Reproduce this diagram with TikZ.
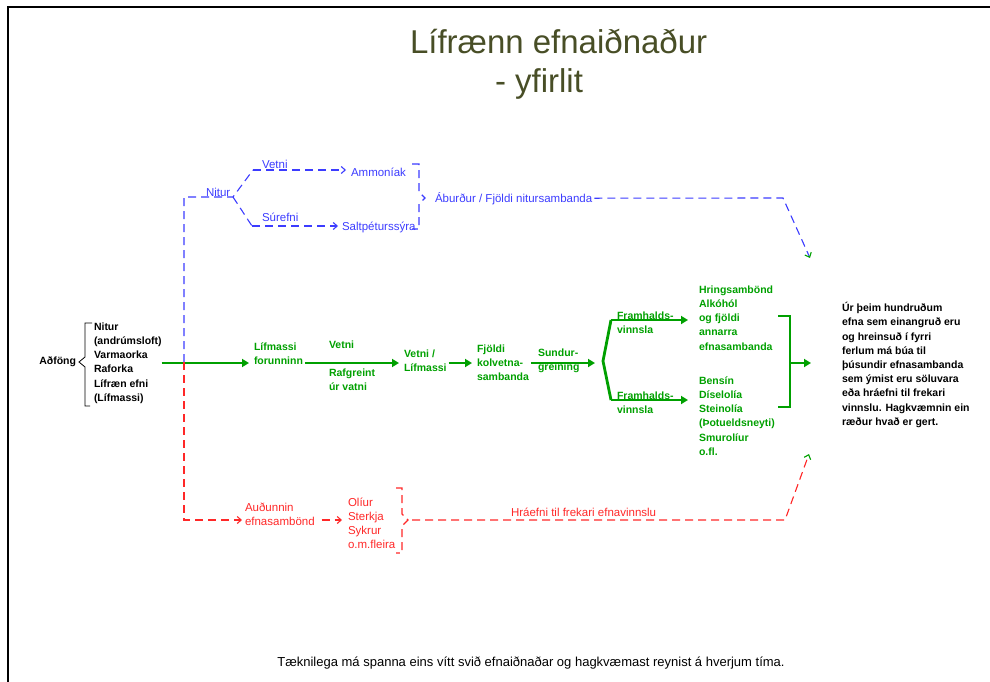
\documentclass[tikz,border=0pt]{standalone}
\usepackage{fontspec}
\setmainfont{Liberation Sans}
\usetikzlibrary{arrows.meta}
\usetikzlibrary{calc}
\definecolor{blu}{RGB}{60,60,255}
\definecolor{rd}{RGB}{255,40,40}
\definecolor{grn}{RGB}{0,160,0}
\definecolor{olive}{RGB}{72,78,38}
\newcommand{\lbl}{\fontsize{11.5}{14}\selectfont}
\newcommand{\glbl}{\fontsize{10.5}{14.2}\selectfont\bfseries}

\begin{document}
\begin{tikzpicture}[x=1pt,y=-1pt,
  txt/.style={inner sep=0pt, outer sep=0pt, align=left},
  bl/.style={txt, text=blu, font=\lbl},
  rt/.style={txt, text=rd, font=\lbl},
  gt/.style={txt, text=grn, font=\glbl},
  kt/.style={txt, text=black, font=\glbl},
  bdash/.style={draw=blu, line width=1.1pt, dash pattern=on 8pt off 5pt},
  rdash/.style={draw=rd, line width=1.1pt, dash pattern=on 8pt off 5pt},
  thintip/.style={-{Straight Barb[length=4pt,width=7pt]}},
  greentip/.style={-{Straight Barb[length=4pt,width=7pt,color=grn]}},
  gline/.style={draw=grn, line width=2.8pt},
  garrow/.style={gline, -{Triangle[length=7pt,width=8pt]}, shorten <=2pt, shorten >=5pt},
]
\useasboundingbox (0,0) rectangle (990,682);
\draw[line width=2pt] (8,682) -- (8,7) -- (990,7);

\node[txt, text=olive, font=\fontsize{33}{39}\selectfont, anchor=base west] (title) at (410,93)
  {Lífrænn efnaiðnaður\\\hspace*{85pt}- yfirlit};

\node[kt, anchor=east] (adfong) at (76,362) {Aðföng};
\node[kt, anchor=west] (inputs) at (94,363) {Nitur\\(andrúmsloft)\\Varmaorka\\Raforka\\Lífræn efni\\(Lífmassi)};
\draw[line width=.8pt] (92,323) -- (85,323) -- (85,357) -- (79,362) -- (85,367) -- (85,406) -- (90,406);

\coordinate (junc) at (184,362);
\coordinate (nsplit) at (233,197);
\coordinate (nup) at (253,170);
\coordinate (ndn) at (252,226);
\node[bl, anchor=base west] (nitur) at (206,196) {Nitur};
\node[bl, anchor=base west] (vetni) at (262,168) {Vetni};
\node[bl, anchor=base west] (surefni) at (262,221) {Súrefni};
\node[bl, anchor=base west] (ammon) at (351,176) {Ammoníak};
\node[bl, anchor=base west] (salt) at (342,230) {Saltpéturssýra};
\node[bl, anchor=base west] (abur) at (435,202) {Áburður / Fjöldi nitursambanda};
\draw[bdash] (junc) |- (nsplit) -- (nup);
\draw[bdash] (nsplit) -- (ndn);
\draw[bdash, thintip, shorten >=5pt] (nup) -- (ammon.west |- nup);
\draw[bdash, thintip, shorten >=4pt] (ndn) -- (salt.west |- ndn);
\draw[bdash] (412,164) -| (419,192) -- (425,198) -- (419,204) |- (412,229);
\coordinate (nbend) at (783,198);
\coordinate (nend) at (810,258);
\draw[bdash, greentip, shorten <=2pt] (abur.east) -- (nbend) -- (nend);

\node[gt, anchor=west] (lifm) at (254,354) {Lífmassi\\forunninn};
\node[gt, anchor=base west] (vetni2) at (329,348) {Vetni};
\node[gt, anchor=west] (rafg) at (329,380) {Rafgreint\\úr vatni};
\node[gt, anchor=west] (vl) at (404,361) {Vetni /\\Lífmassi};
\node[gt, anchor=west] (fjoldi) at (477,363) {Fjöldi\\kolvetna-\\sambanda};
\node[gt, anchor=west] (sund) at (538,361) {Sundur-\\greining};
\coordinate (fork) at (603,361);
\coordinate (fup) at (611,320);
\coordinate (fdn) at (611,400);
\node[gt, anchor=west] (fr1) at (617,323) {Framhalds-\\vinnsla};
\node[gt, anchor=west] (fr2) at (617,403) {Framhalds-\\vinnsla};
\node[gt, anchor=west] (hring) at (699,318) {Hringsambönd\\Alkóhól\\og fjöldi\\annarra\\efnasambanda};
\node[gt, anchor=west] (bens) at (699,416) {Bensín\\Díselolía\\Steinolía\\(Þotueldsneyti)\\Smurolíur\\o.fl.};
\node[kt, anchor=west] (result) at (842,365) {Úr þeim hundruðum\\efna sem einangruð eru\\og hreinsuð í fyrri\\ferlum má búa til\\þúsundir efnasambanda\\sem ýmist eru söluvara\\eða hráefni til frekari\\vinnslu. Hagkvæmnin ein\\ræður hvað er gert.};

\draw[garrow, shorten <=0pt] (inputs.east) -- (lifm.west |- inputs.east);
\draw[garrow] (lifm.east |- inputs.east) -- (vl.west |- inputs.east);
\draw[garrow] (vl.east |- inputs.east) -- (fjoldi.west |- inputs.east);
\draw[garrow, shorten >=8pt] (fjoldi.east |- inputs.east) -- (fork |- inputs.east);
\draw[gline, line join=round] (fup) -- (fork) -- (fdn);
\draw[garrow, shorten <=0pt, shorten >=11pt] (fup) -- (hring.west |- fup);
\draw[garrow, shorten <=0pt, shorten >=11pt] (fdn) -- (bens.west |- fdn);
\draw[gline] (778,316) -- (790,316) -- (790,407) -- (778,407);
\coordinate (brk) at (790,363);
\draw[garrow, shorten <=0pt, shorten >=31pt] (brk) -- (result.west |- brk);

\coordinate (rlow) at (184,520);
\node[rt, anchor=west] (aud) at (245,514) {Auðunnin\\efnasambönd};
\node[rt, anchor=west] (olia) at (348,523) {Olíur\\Sterkja\\Sykrur\\o.m.fleira};
\draw[rdash, thintip, shorten >=3pt] (junc) -- (rlow) -- (aud.west |- rlow);
\draw[rdash, thintip, shorten <=7pt, shorten >=6pt] (aud.east |- rlow) -- (olia.west |- rlow);
\draw[rdash] (396,488) -| (402,514) -- (408,520) -- (402,526) |- (396,553);
\coordinate (rbrk) at (412,520);
\coordinate (rbend) at (785,520);
\coordinate (rend) at (809,454);
\draw[rdash, greentip] (rbrk) -- node[rt, above=3pt, pos=.46] (hraef) {Hráefni til frekari efnavinnslu} (rbend) -- (rend);

\node[txt, font=\fontsize{13}{15}\selectfont, anchor=base] (foot) at (531,666) {Tæknilega má spanna eins vítt svið efnaiðnaðar og hagkvæmast reynist á hverjum tíma.};
\end{tikzpicture}
\end{document}
